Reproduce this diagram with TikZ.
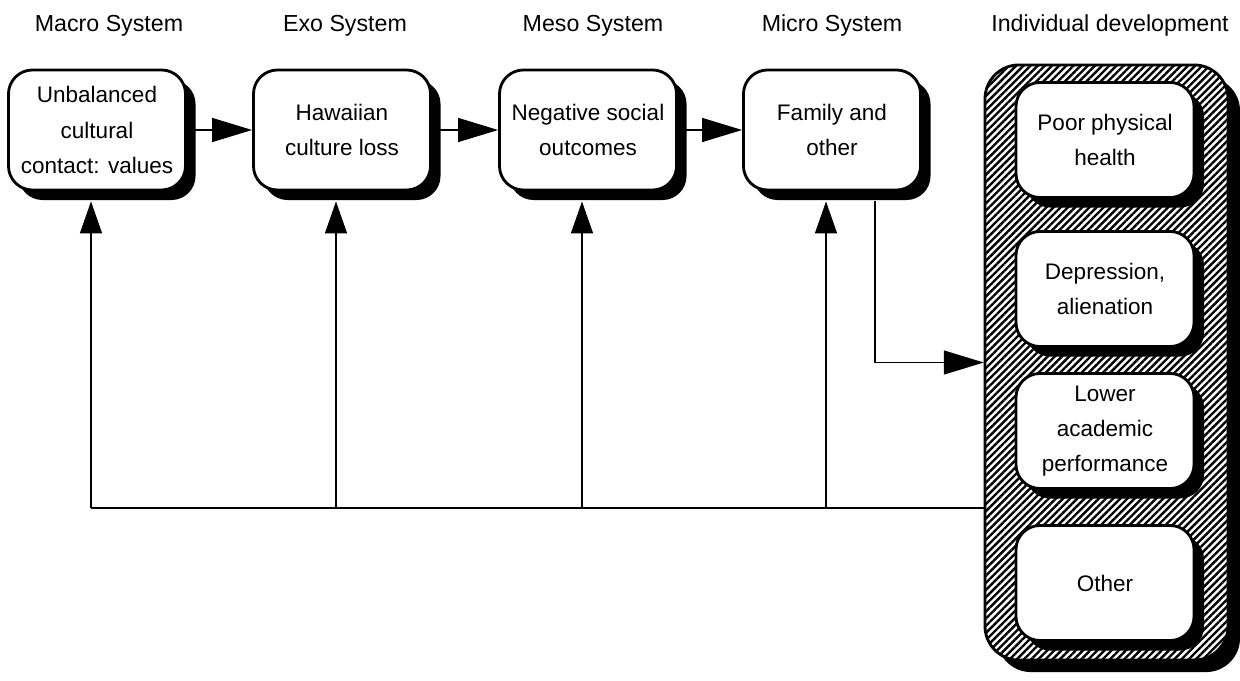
\documentclass[tikz,border=0pt]{standalone}
\usepackage{fontspec}
\setmainfont{Liberation Sans}
\usetikzlibrary{arrows.meta,shadows,patterns.meta}

\tikzset{
  sysbox/.style={draw, line width=2pt, rounded corners=0.6cm, fill=white,
    minimum width=4.425cm, minimum height=3cm, align=center,
    font=\fontsize{16}{25}\selectfont,
    drop shadow={shadow xshift=0.25cm, shadow yshift=-0.25cm, fill=black, opacity=1}},
  outbox/.style={sysbox, minimum width=4.45cm, minimum height=2.875cm},
  syslabel/.style={font=\fontsize{16.5}{20}\selectfont},
  flow/.style={line width=1pt, -{Triangle[length=1cm,width=0.6cm]}},
  feedback/.style={line width=1pt, -{Triangle[length=0.8cm,width=0.55cm]}},
}

\begin{document}
\begin{tikzpicture}[x=0.025cm,y=-0.025cm]
  \useasboundingbox (0,0) rectangle (1240,681);

  % systems
  \node[sysbox] (macro) at (97,130)  {Unbalanced\\cultural\\contact: values};
  \node[sysbox] (exo)   at (342,130) {Hawaiian\\culture loss};
  \node[sysbox] (meso)  at (588,130) {Negative social\\outcomes};
  \node[sysbox] (micro) at (832,130) {Family and\\other};

  \node[syslabel] (macro-lbl) at (109,26)  {Macro System};
  \node[syslabel] (exo-lbl)   at (345,26)  {Exo System};
  \node[syslabel] (meso-lbl)  at (593,26)  {Meso System};
  \node[syslabel] (micro-lbl) at (832,26)  {Micro System};
  \node[syslabel] (indiv-lbl) at (1110,26) {Individual development};

  % individual development
  \node[draw, line width=2pt, rounded corners=0.85cm,
    minimum width=6.075cm, minimum height=14.875cm,
    drop shadow={shadow xshift=0.3cm, shadow yshift=-0.3cm, fill=black, opacity=1},
    preaction={fill=white},
    pattern={Lines[angle=45,distance=3.6pt,line width=1.7pt]}]
    (indiv) at (1106.5,362.5) {};
  \node[outbox] (health)   at (1105,140) {Poor physical\\health};
  \node[outbox] (depress)  at (1105,289) {Depression,\\alienation};
  \node[outbox] (academic) at (1105,431) {Lower\\academic\\performance};
  \node[outbox] (other)    at (1105,583) {Other};

  % forward flow
  \draw[flow] (macro) -- (exo);
  \draw[flow] (exo) -- (meso);
  \draw[flow] (meso) -- (micro);
  \draw[flow] ([xshift=1.075cm,yshift=-0.25cm]micro.south) |- (indiv.west);

  % feedback
  \coordinate (fbk) at (indiv.west |- 0,508);
  \foreach \sys in {macro,exo,meso,micro}
    \coordinate (\sys-in) at ([xshift=-0.15cm,yshift=-0.25cm]\sys.south);
  \draw[line width=1pt] (fbk) -- (fbk -| macro-in);
  \foreach \sys in {macro,exo,meso,micro}
    \draw[feedback] (fbk -| \sys-in) -- (\sys-in);
\end{tikzpicture}
\end{document}
